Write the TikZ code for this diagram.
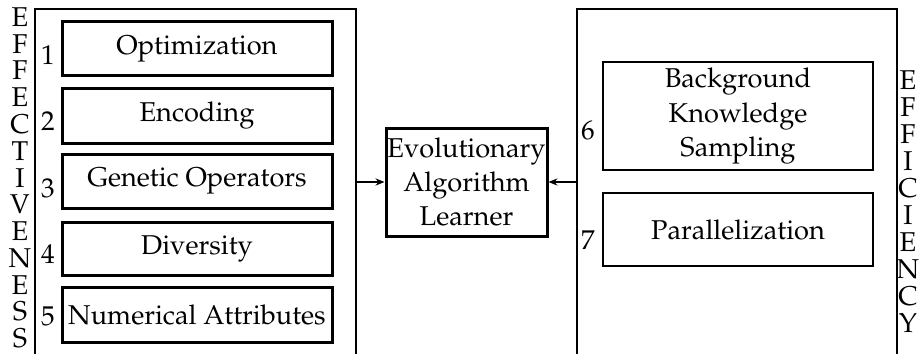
\documentclass[tikz,border=0pt]{standalone}
\usepackage[T1]{fontenc}
\usepackage{mathpazo}
\usetikzlibrary{arrows.meta}
\begin{document}
\begin{tikzpicture}[x=0.5pt,y=-0.5pt,
  every node/.style={font=\fontsize{13.6}{17.2}\selectfont, inner sep=0pt},
  topicbox/.style={draw, line width=1.5pt, minimum width=135pt, align=center},
  speedbox/.style={draw, line width=1.1pt, minimum width=135pt, align=center},
  learnerbox/.style={draw, line width=1.5pt, minimum width=80.5pt, minimum height=54pt, align=center},
  frame/.style={line width=1.1pt},
  feed/.style={line width=0.8pt, -{Stealth[length=4.5pt,width=3.6pt]}},
  digit/.style={},
  letter/.style={}]
\useasboundingbox (0,0) rectangle (922,354);

% open-bottomed frames
\draw[frame] (35,354) -- (35,9) -- (356,9) -- (356,354);
\draw[frame] (577,354) -- (577,9) -- (897,9) -- (897,354);

% effectiveness boxes
\node[topicbox, minimum height=27pt] (opt) at (197,48.5) {Optimization};
\node[topicbox, minimum height=27.5pt] (enc) at (197,115.5) {Encoding};
\node[topicbox, minimum height=27pt] (gen) at (197,181) {Genetic Operators};
\node[topicbox, minimum height=26.5pt] (div) at (197,248.5) {Diversity};
\node[topicbox, minimum height=27.5pt] (num) at (197,314.5) {Numerical Attributes};

\node[digit] (n1) at (48,55) {1};
\node[digit] (n2) at (48,121) {2};
\node[digit] (n3) at (48,188) {3};
\node[digit] (n4) at (48,254) {4};
\node[digit] (n5) at (48,316) {5};

% efficiency boxes
\node[speedbox, minimum height=54pt] (bks) at (738,116) {Background\\Knowledge\\Sampling};
\node[speedbox, minimum height=36.5pt] (par) at (738,229.5) {Parallelization};

\node[digit] (n6) at (588,130) {6};
\node[digit] (n7) at (588,240) {7};

% central learner
\node[learnerbox] (eal) at (466.5,182) {Evolutionary\\Algorithm\\Learner};

\coordinate (lout) at (356,182);
\coordinate (rout) at (577,182);
\draw[feed] (lout) -- (eal.west);
\draw[feed] (rout) -- (eal.east);

% vertical side labels
\foreach \c [count=\i from 0] in {E,F,F,E,C,T,I,V,E,N,E,S,S}
  \node[letter] (le\i) at (20,17+26.8*\i) {\c};
\foreach \c [count=\i from 0] in {E,F,F,I,C,I,E,N,C,Y}
  \node[letter] (ri\i) at (908,80+27*\i) {\c};
\end{tikzpicture}
\end{document}
